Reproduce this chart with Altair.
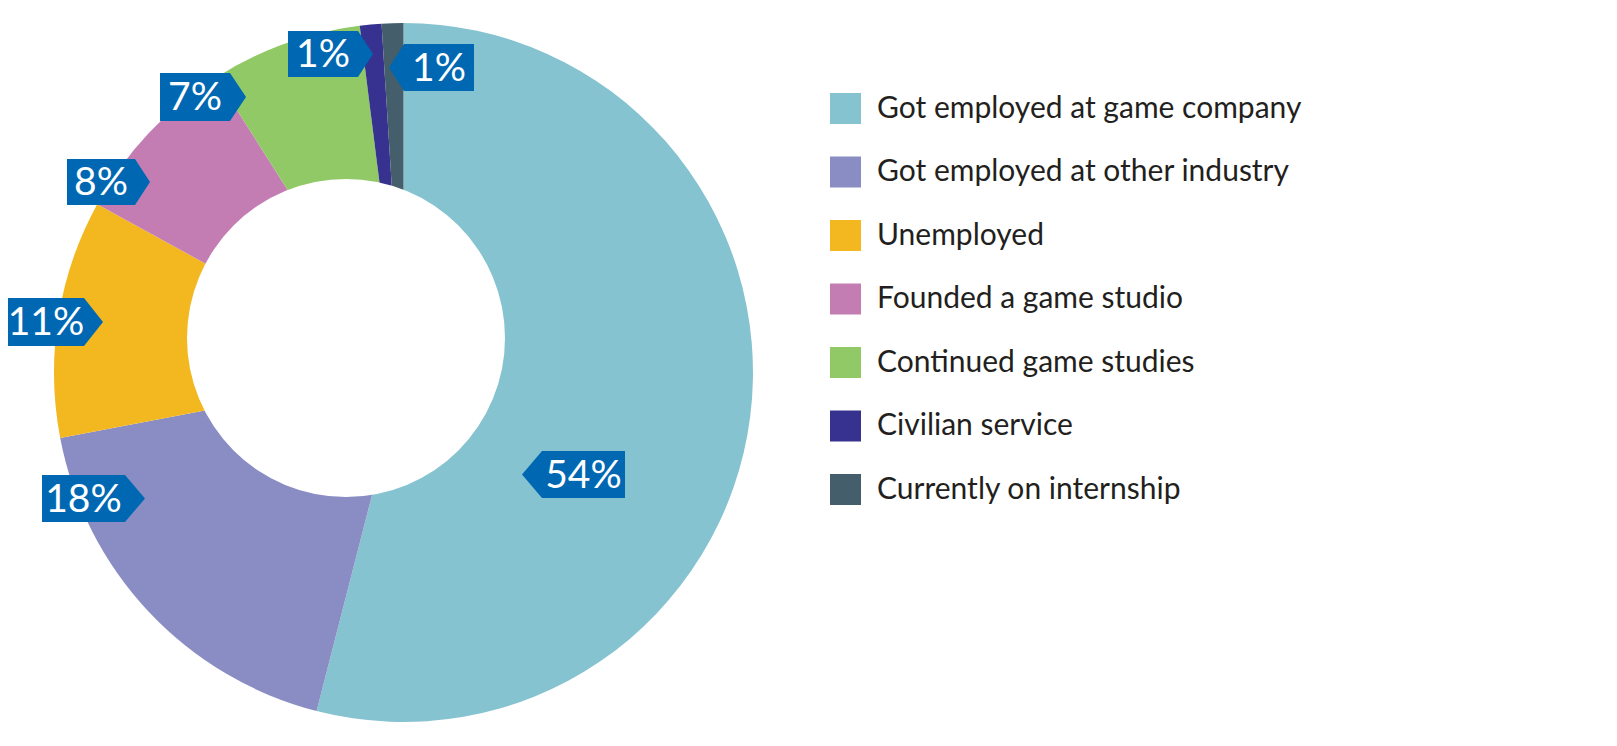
import altair as alt
import pandas as pd

categories = [
    "Got employed at game company",
    "Got employed at other industry",
    "Unemployed",
    "Founded a game studio",
    "Continued game studies",
    "Civilian service",
    "Currently on internship",
]
values = [54, 18, 11, 8, 7, 1, 1]
colors = ["#86c3d0", "#8a8dc4", "#f3b820", "#c47db3", "#90c965", "#373190", "#445e6b"]

# callout annotation layout (chart pixel coords): rect left, rect right, centre y, pointing side
labels = ["54%", "18%", "11%", "8%", "7%", "1%", "1%"]
box_left = [534, 34, 0, 59, 152, 280, 396]
box_right = [617, 117, 76, 127, 222, 350, 466]
box_y = [466.5, 490.5, 314, 174, 89, 46, 59.5]
box_side = ["left", "right", "right", "right", "right", "right", "left"]
box_h = [47, 47, 48, 46, 48, 46, 47]
tip_w = [20, 20, 19, 15, 16, 15, 15]

CX, CY, R_OUT = 395.5, 364.5, 349.5
HX, HY, R_IN = 338, 330, 159

df = pd.DataFrame({"category": categories, "value": values, "idx": list(range(len(values)))})

rows = []
for lab, l, r, y, side, h, t in zip(labels, box_left, box_right, box_y, box_side, box_h, tip_w):
    cx = (l + r) / 2
    hw = (r - l) / 2
    hh = h / 2
    if side == "right":
        path = f"M{-hw},{-hh}L{hw},{-hh}L{hw + t},0L{hw},{hh}L{-hw},{hh}Z"
    else:
        path = f"M{hw},{-hh}L{-hw},{-hh}L{-hw - t},0L{-hw},{hh}L{hw},{hh}Z"
    rows.append({"label": lab, "x": cx, "y": y, "path": path})
cdf = pd.DataFrame(rows)

pie = alt.Chart(df).mark_arc(radius=R_OUT, stroke=None).encode(
    theta=alt.Theta("value:Q", stack=True),
    order=alt.Order("idx:Q"),
    color=alt.Color(
        "category:N",
        scale=alt.Scale(domain=categories, range=colors),
        sort=categories,
        legend=alt.Legend(
            title=None,
            orient="none",
            legendX=822,
            legendY=85,
            symbolType="square",
            symbolSize=961,
            symbolStrokeWidth=0,
            symbolOpacity=1,
            labelFont="Lato",
            labelFontSize=30,
            labelColor="#231f20",
            labelOffset=16,
            labelLimit=0,
            rowPadding=32.5,
            padding=0,
        ),
    ),
    x=alt.value(CX),
    y=alt.value(CY),
)

hole = alt.Chart(pd.DataFrame({"h": [1]})).mark_point(
    shape="circle", filled=True, color="white", opacity=1, strokeWidth=0
).encode(
    x=alt.value(HX), y=alt.value(HY), size=alt.value((2 * R_IN) ** 2)
)

boxes = alt.Chart(cdf).mark_point(filled=True, color="#0068b3", opacity=1, strokeWidth=0).encode(
    x=alt.X("x:Q", scale=None, axis=None),
    y=alt.Y("y:Q", scale=None, axis=None),
    shape=alt.Shape("path:N", scale=None, legend=None),
    size=alt.value(4),
)

texts = alt.Chart(cdf).mark_text(
    font="Lato", fontSize=39, color="white", align="center", baseline="middle", dy=1
).encode(
    x=alt.X("x:Q", scale=None, axis=None),
    y=alt.Y("y:Q", scale=None, axis=None),
    text="label:N",
)

chart = alt.layer(pie, hole, boxes, texts).properties(
    width=1601, height=730,
    autosize=alt.AutoSizeParams(type="none"),
    padding=0,
).configure_view(stroke=None)

chart.save("out.html", embed_options={"renderer": "svg", "actions": False})
